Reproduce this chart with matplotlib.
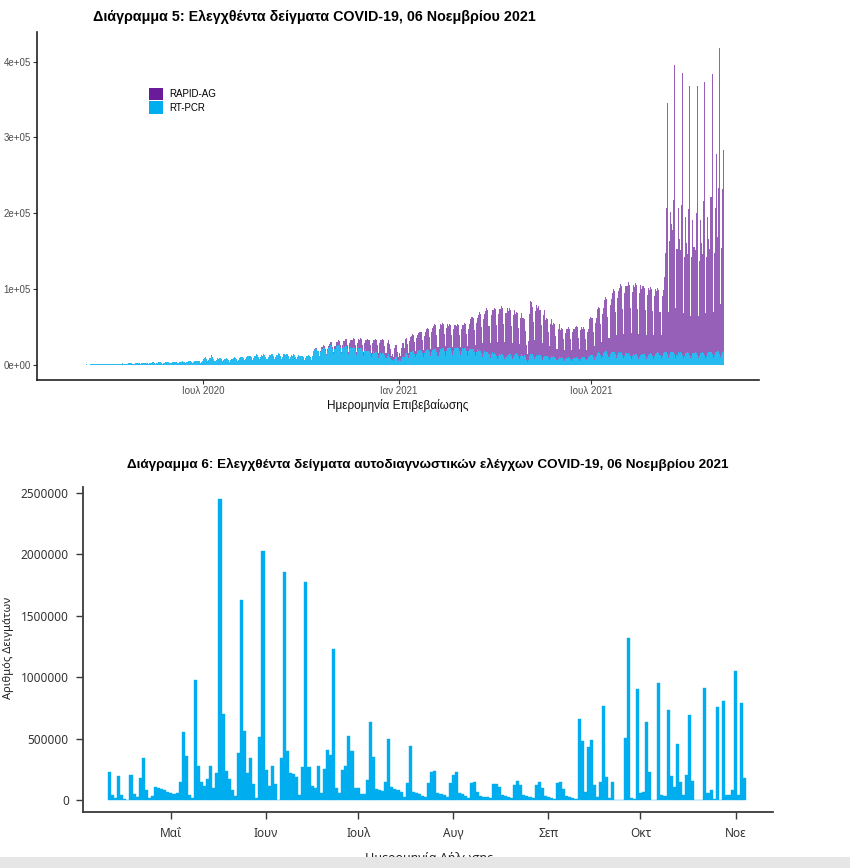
import numpy as np
import matplotlib
matplotlib.use('Agg')
import matplotlib.pyplot as plt
import matplotlib.dates as mdates
from matplotlib.patches import Patch, Rectangle

# ---------------- Διάγραμμα 5 : daily tests in thousands, one row per week (Wed..Tue)
pcr_start = '2020-02-26'
rt_pcr_k = [
    0.1, 0.1, 0.1, 0.1, 0.0, 0.1, 0.2,
    0.2, 0.3, 0.3, 0.3, 0.2, 0.3, 0.4,
    0.5, 0.6, 0.7, 0.6, 0.4, 0.5, 0.7,
    0.9, 1.0, 1.1, 1.0, 0.7, 0.8, 1.1,
    1.2, 1.3, 1.3, 1.2, 0.8, 1.0, 1.3,
    1.5, 1.6, 1.7, 1.5, 1.0, 1.2, 1.6,
    1.7, 1.8, 1.7, 1.5, 1.0, 1.2, 1.7,
    1.9, 2.0, 1.8, 1.6, 1.1, 1.3, 1.9,
    2.1, 2.3, 2.2, 1.9, 1.3, 1.6, 2.2,
    2.6, 2.8, 2.7, 2.3, 1.5, 2.0, 2.7,
    2.9, 3.1, 3.0, 2.6, 1.7, 2.2, 3.0,
    3.1, 3.4, 3.3, 2.8, 1.8, 2.4, 3.2,
    3.3, 3.5, 3.4, 2.9, 1.9, 2.5, 3.4,
    3.4, 3.7, 3.6, 3.0, 2.0, 2.6, 3.5,
    3.9, 4.2, 4.1, 3.5, 2.3, 3.0, 4.0,
    4.4, 4.7, 4.5, 3.8, 2.5, 3.3, 4.5,
    4.7, 5.0, 4.9, 4.1, 2.7, 3.5, 4.8,
    5.2, 5.6, 5.4, 4.6, 3.0, 3.9, 5.3,
    7.5, 9.0, 10.5, 8.0, 5.0, 6.5, 9.5,
    9.5, 13.0, 11.0, 8.5, 5.5, 7.0, 9.0,
    8.5, 9.5, 9.0, 7.5, 5.0, 6.5, 8.5,
    8.0, 9.0, 8.5, 7.0, 4.5, 6.0, 8.0,
    9.0, 10.0, 9.5, 8.0, 5.0, 7.0, 9.5,
    10.0, 11.0, 10.5, 9.0, 6.0, 8.0, 10.5,
    11.5, 12.5, 12.0, 10.0, 6.5, 9.0, 12.0,
    12.5, 14.0, 13.0, 11.0, 7.5, 10.0, 13.0,
    12.5, 15.0, 13.5, 11.0, 7.5, 10.0, 13.0,
    13.0, 14.5, 14.0, 11.5, 8.0, 10.5, 13.5,
    13.5, 16.0, 14.5, 12.0, 8.0, 11.0, 14.0,
    13.0, 14.5, 14.0, 11.5, 7.5, 10.5, 13.5,
    12.5, 14.0, 13.5, 11.0, 7.5, 10.0, 13.0,
    11.5, 12.5, 12.0, 10.0, 6.5, 9.0, 11.5,
    12.0, 13.0, 12.5, 10.5, 7.0, 12.0, 19.0,
    20.0, 22.0, 21.5, 18.0, 12.0, 17.0, 21.0,
    21.0, 23.0, 22.5, 19.0, 13.0, 18.0, 22.0,
    24.0, 26.0, 25.5, 21.0, 15.0, 21.0, 25.0,
    25.5, 27.0, 26.5, 22.0, 15.5, 22.0, 26.0,
    24.0, 25.5, 25.0, 21.0, 14.5, 20.5, 24.0,
    22.0, 23.5, 23.0, 19.0, 13.0, 19.0, 22.5,
    21.0, 22.5, 22.0, 18.0, 12.5, 18.0, 21.0,
    18.0, 19.0, 18.5, 15.5, 10.5, 15.0, 18.0,
    16.0, 17.0, 16.5, 14.0, 9.5, 13.5, 16.0,
    15.0, 16.0, 15.5, 13.0, 9.0, 12.5, 15.0,
    11.0, 9.0, 6.0, 7.0, 5.0, 8.0, 10.0,
    10.0, 7.0, 5.0, 7.0, 5.5, 8.0, 11.0,
    10.0, 15.0, 16.0, 13.5, 9.0, 13.0, 16.5,
    17.5, 18.5, 18.0, 15.0, 10.5, 15.0, 18.0,
    18.5, 19.5, 19.0, 16.0, 11.0, 16.0, 19.0,
    19.5, 20.5, 20.0, 17.0, 11.5, 17.0, 20.0,
    20.5, 21.5, 21.0, 17.5, 12.0, 17.5, 21.0,
    21.5, 22.5, 22.0, 18.5, 12.5, 18.5, 22.0,
    22.5, 23.5, 23.0, 19.0, 13.0, 19.0, 22.5,
    22.5, 23.5, 23.0, 19.0, 13.0, 19.0, 22.5,
    21.5, 22.5, 22.0, 18.5, 12.5, 18.0, 21.5,
    20.5, 21.5, 21.0, 17.5, 12.0, 17.0, 20.5,
    18.5, 19.5, 19.0, 16.0, 11.0, 15.5, 18.5,
    16.5, 17.5, 17.0, 14.0, 9.5, 14.0, 16.5,
    14.5, 15.5, 15.0, 12.5, 8.5, 12.0, 14.5,
    13.5, 14.5, 14.0, 11.5, 8.0, 11.0, 13.5,
    13.5, 14.5, 14.0, 11.5, 8.0, 11.0, 13.5,
    14.5, 15.5, 15.0, 12.5, 8.5, 12.0, 14.5,
    12.0, 13.0, 10.0, 7.0, 4.5, 6.0, 12.0,
    14.0, 14.5, 14.0, 11.5, 8.0, 11.0, 13.5,
    12.5, 13.5, 13.0, 10.5, 7.0, 10.0, 12.5,
    11.5, 12.5, 12.0, 10.0, 6.5, 9.0, 11.5,
    10.5, 11.5, 11.0, 9.0, 6.0, 8.0, 10.5,
    9.5, 10.0, 9.5, 8.0, 5.5, 7.5, 9.5,
    9.5, 10.0, 9.5, 8.0, 5.5, 7.5, 9.5,
    9.5, 10.0, 9.5, 8.0, 5.5, 7.5, 9.5,
    10.5, 11.0, 10.5, 8.5, 6.0, 8.5, 10.5,
    12.5, 13.5, 13.0, 10.5, 7.0, 10.0, 12.5,
    15.5, 16.5, 16.0, 13.0, 9.0, 12.5, 15.5,
    17.5, 18.5, 18.0, 15.0, 10.0, 14.0, 17.5,
    16.5, 17.5, 17.0, 14.0, 9.5, 13.5, 16.5,
    15.5, 16.5, 16.0, 13.0, 9.0, 12.5, 15.5,
    14.5, 15.5, 15.0, 12.5, 8.5, 11.5, 14.5,
    13.5, 14.5, 14.0, 11.5, 8.0, 10.5, 13.5,
    13.5, 14.5, 14.0, 11.5, 8.0, 10.5, 13.5,
    14.5, 15.5, 15.0, 12.5, 8.5, 11.5, 14.5,
    15.5, 16.5, 16.0, 13.0, 9.0, 12.5, 15.5,
    16.5, 17.5, 17.0, 14.0, 9.5, 13.0, 16.5,
    16.5, 17.5, 17.0, 14.0, 9.5, 13.0, 16.5,
    15.5, 16.5, 16.0, 13.0, 9.0, 12.5, 15.5,
    15.5, 16.5, 16.0, 13.0, 9.0, 12.5, 15.5,
    15.5, 16.5, 16.0, 13.0, 9.0, 12.5, 15.5,
    15.5, 16.5, 16.0, 13.0, 9.0, 12.5, 15.5,
    16.5, 17.5, 17.0, 14.0, 9.5, 13.0, 16.5,
    17.5, 18.5, 18.0, 15.0, 10.0, 14.0, 17.5,
    18.5,
]

rapid_start = '2020-10-14'
rapid_ag_k = [
    0.5, 1.0, 1.5, 1.0, 0.5, 2.0, 2.5,
    2.5, 3.0, 3.0, 2.0, 1.0, 3.0, 3.5,
    4.0, 4.5, 4.5, 3.0, 1.5, 4.0, 5.0,
    5.0, 5.5, 5.5, 4.0, 2.0, 5.0, 6.0,
    8.0, 9.0, 9.0, 6.0, 3.0, 8.5, 9.5,
    10.5, 11.5, 11.0, 7.5, 4.0, 10.0, 11.5,
    11.5, 12.5, 12.0, 8.5, 4.5, 11.0, 12.5,
    14.5, 15.5, 15.0, 10.5, 5.5, 14.0, 15.5,
    16.5, 17.5, 17.0, 12.0, 6.0, 16.0, 17.5,
    17.5, 18.5, 18.0, 12.5, 6.5, 17.0, 18.5,
    17.0, 12.0, 6.0, 8.0, 6.0, 14.0, 17.0,
    16.0, 10.0, 5.0, 9.0, 7.0, 15.0, 18.0,
    12.0, 19.0, 20.0, 14.0, 7.0, 18.0, 20.0,
    21.0, 22.0, 21.5, 15.0, 8.0, 20.0, 22.0,
    23.5, 24.5, 24.0, 16.5, 9.0, 22.0, 24.5,
    27.5, 28.5, 28.0, 19.5, 10.0, 26.0, 28.5,
    31.5, 33.0, 32.0, 22.0, 12.0, 30.0, 32.5,
    31.5, 33.0, 32.0, 22.0, 12.0, 30.0, 32.5,
    29.5, 31.0, 30.0, 21.0, 11.0, 28.0, 30.5,
    29.5, 31.0, 30.0, 21.0, 11.0, 28.0, 30.5,
    31.5, 33.0, 32.0, 22.0, 12.0, 30.0, 32.5,
    40.0, 42.0, 41.0, 28.0, 15.0, 38.0, 41.5,
    47.5, 50.0, 48.5, 33.5, 18.0, 45.0, 49.0,
    54.5, 57.0, 55.5, 38.0, 20.0, 52.0, 56.0,
    57.5, 60.0, 58.5, 40.0, 21.5, 55.0, 59.0,
    60.5, 63.0, 61.5, 42.0, 22.5, 58.0, 62.0,
    57.5, 60.0, 58.5, 40.0, 21.5, 55.0, 59.0,
    52.5, 55.0, 53.5, 36.5, 19.5, 50.0, 54.0,
    50.0, 48.0, 35.0, 20.0, 10.0, 25.0, 55.0,
    70.0, 68.0, 62.0, 45.0, 25.0, 60.0, 66.0,
    62.0, 64.0, 60.0, 42.0, 22.0, 56.0, 60.0,
    47.5, 50.0, 48.5, 33.5, 18.0, 45.0, 49.0,
    42.0, 44.0, 43.0, 29.5, 15.5, 40.0, 43.0,
    37.0, 38.5, 37.5, 26.0, 14.0, 35.0, 37.5,
    38.0, 39.5, 38.5, 26.5, 14.0, 36.0, 38.5,
    40.0, 41.5, 40.5, 28.0, 15.0, 38.0, 40.5,
    37.0, 38.5, 37.5, 26.0, 14.0, 35.0, 37.5,
    47.5, 50.0, 48.5, 33.5, 18.0, 45.0, 49.0,
    58.0, 60.5, 59.0, 40.5, 21.5, 55.0, 59.5,
    68.5, 71.5, 69.5, 48.0, 25.5, 65.0, 70.0,
    79.0, 82.5, 80.5, 55.5, 29.5, 75.0, 81.0,
    86.5, 90.0, 88.0, 60.5, 32.0, 82.0, 88.5,
    89.5, 93.5, 91.0, 62.5, 33.5, 85.0, 91.5,
    89.5, 93.5, 91.0, 62.5, 33.5, 85.0, 91.5,
    86.5, 90.0, 88.0, 60.5, 32.0, 82.0, 88.5,
    84.0, 87.5, 85.5, 59.0, 31.0, 80.0, 86.0,
    82.0, 85.5, 83.5, 57.5, 30.5, 78.0, 84.0,
    100.0, 130.0, 190.0, 332.0, 60.0, 150.0, 185.0,
    170.0, 160.0, 200.0, 381.0, 65.0, 140.0, 190.0,
    150.0, 135.0, 195.0, 372.0, 60.0, 130.0, 180.0,
    145.0, 130.0, 190.0, 355.0, 55.0, 130.0, 175.0,
    140.0, 135.0, 185.0, 355.0, 55.0, 125.0, 175.0,
    145.0, 130.0, 200.0, 360.0, 60.0, 130.0, 180.0,
    150.0, 135.0, 205.0, 369.0, 60.0, 135.0, 190.0,
    260.0, 150.0, 215.0, 403.0, 70.0, 140.0, 215.0,
    265.0,
]

top_yticks = [0, 100000, 200000, 300000, 400000]
top_ytick_labels = ['0e+00', '1e+05', '2e+05', '3e+05', '4e+05']
top_xticks = ['2020-07-01', '2021-01-01', '2021-07-01']
top_xtick_labels = ['Ιουλ 2020', 'Ιαν 2021', 'Ιουλ 2021']

# ---------------- Διάγραμμα 6 : self tests in thousands, Apr 11 -> Nov 4 2021
self_start = '2021-04-11'
self_tests_k = [
    230, 40, 15, 195, 40, 8, 4,
    200, 50, 25, 180, 343, 80, 20,
    35, 108, 100, 90, 80, 65, 55,
    48, 55, 149, 555, 357, 40, 15,
    974, 277, 150, 110, 170, 280, 100,
    220, 2450, 700, 232, 170, 80, 30,
    380, 1630, 560, 220, 340, 130, 20,
    510, 2023, 240, 110, 275, 130, 0,
    340, 1851, 400, 220, 210, 190, 40,
    270, 1777, 265, 115, 100, 280, 60,
    250, 410, 370, 1232, 97, 60, 240,
    280, 520, 400, 100, 95, 50, 50,
    160, 635, 350, 90, 85, 70, 150,
    500, 108, 90, 81, 68, 27, 141,
    439, 68, 55, 49, 33, 27, 141,
    230, 236, 60, 50, 41, 27, 136,
    203, 230, 54, 45, 33, 14, 136,
    149, 68, 33, 25, 22, 14, 127,
    127, 108, 41, 35, 27, 14, 122,
    157, 122, 41, 35, 27, 14, 122,
    149, 95, 33, 22, 14, 10, 141,
    150, 90, 33, 25, 15, 10, 656,
    483, 68, 434, 488, 122, 27, 144,
    765, 190, 20, 150, 0, 0, 0,
    502, 1315, 13, 5, 903, 54, 62,
    637, 230, 0, 2, 949, 40, 30,
    732, 195, 108, 456, 150, 40, 203,
    691, 155, 0, 0, 0, 908, 54,
    81, 5, 754, 0, 805, 40, 40,
    81, 1049, 40, 792, 176,
]

bottom_yticks = [0, 500000, 1000000, 1500000, 2000000, 2500000]
bottom_ytick_labels = ['0', '500000', '1000000', '1500000', '2000000', '2500000']
bottom_xticks = ['2021-05-01', '2021-06-01', '2021-07-01', '2021-08-01',
                 '2021-09-01', '2021-10-01', '2021-11-01']
bottom_xtick_labels = ['Μαΐ', 'Ιουν', 'Ιουλ', 'Αυγ', 'Σεπ', 'Οκτ', 'Νοε']

PURPLE = '#6A1B9A'
BLUE = '#00AEEF'
TITLE_FONT = ['Liberation Sans Narrow', 'Liberation Sans', 'DejaVu Sans']
R_FONT = ['Liberation Sans', 'DejaVu Sans']
WIN_FONT = ['Noto Sans', 'DejaVu Sans']


def day_nums(start, n):
    return mdates.date2num(np.datetime64(start) + np.arange(n))


W, H = 850, 868
fig = plt.figure(figsize=(W / 100, H / 100), dpi=100)
fig.patch.set_facecolor('white')


def px_axes(left, top, right, bottom):
    return fig.add_axes([left / W, 1 - bottom / H, (right - left) / W, (bottom - top) / H])


# ================= top chart =================
ax1 = px_axes(37, 32, 759, 380)
pcr_x = day_nums(pcr_start, len(rt_pcr_k))
pcr = np.array(rt_pcr_k) * 1000
rap_x = day_nums(rapid_start, len(rapid_ag_k))
rap = np.array(rapid_ag_k) * 1000
offset = int((np.datetime64(rapid_start) - np.datetime64(pcr_start)).astype(int))
rap_bottom = pcr[offset:offset + len(rap)]

ax1.bar(pcr_x, pcr, width=1.0, color=BLUE, alpha=0.85, linewidth=0)
ax1.bar(rap_x, rap, width=1.0, bottom=rap_bottom, color=PURPLE, alpha=0.7, linewidth=0)

ax1.set_xlim(mdates.date2num(np.datetime64('2020-01-26T10')),
             mdates.date2num(np.datetime64('2021-12-06T05')))
ax1.set_ylim(-19800, 439000)
ax1.set_yticks(top_yticks)
ax1.set_yticklabels(top_ytick_labels)
ax1.set_xticks(mdates.date2num(np.array(top_xticks, dtype='datetime64[D]')))
ax1.set_xticklabels(top_xtick_labels)
for s in ['top', 'right']:
    ax1.spines[s].set_visible(False)
for s in ['left', 'bottom']:
    ax1.spines[s].set_color('#222222')
    ax1.spines[s].set_linewidth(1.2)
ax1.tick_params(length=3, width=0.8, color='#333333', labelsize=7,
                labelcolor='#4d4d4d', pad=1.5)
for lab in ax1.get_xticklabels() + ax1.get_yticklabels():
    lab.set_family(R_FONT)

leg = ax1.legend([Patch(fc=PURPLE), Patch(fc=BLUE)], ['RAPID-AG', 'RT-PCR'],
                 loc='upper left', bbox_to_anchor=((149 - 37) / 722, 1 - (88 - 32) / 348),
                 frameon=False, borderaxespad=0, borderpad=0, handlelength=1.4,
                 handleheight=1.55, handletextpad=0.7, labelspacing=0.12,
                 prop={'family': R_FONT, 'size': 7})

fig.text(93 / W, 1 - 17 / H, 'Διάγραμμα 5: Ελεγχθέντα δείγματα COVID-19, 06 Νοεμβρίου 2021',
         ha='left', va='center', fontsize=10.3, fontweight='bold', family=TITLE_FONT)
fig.text(398 / W, 1 - 405 / H, 'Ημερομηνία Επιβεβαίωσης', ha='center', va='center',
         fontsize=8.5, family=R_FONT, color='#111111')
fig.text(1.5 / W, 1 - 213 / H, 'Αριθμός Δειγμάτων', ha='right', va='center',
         rotation=90, fontsize=9, family=R_FONT, color='#111111')

# ================= bottom chart =================
ax2 = px_axes(82.7, 486.7, 772.8, 811.7)
st_x = day_nums(self_start, len(self_tests_k))
ax2.bar(st_x, np.array(self_tests_k) * 1000, width=1.0, color=BLUE,
        edgecolor=BLUE, linewidth=0.3)

ax2.set_xlim(mdates.date2num(np.datetime64('2021-04-02T06')),
             mdates.date2num(np.datetime64('2021-11-13T03')))
ax2.set_ylim(-95200, 2548800)
ax2.set_yticks(bottom_yticks)
ax2.set_yticklabels(bottom_ytick_labels)
ax2.set_xticks(mdates.date2num(np.array(bottom_xticks, dtype='datetime64[D]')))
ax2.set_xticklabels(bottom_xtick_labels)
for s in ['top', 'right']:
    ax2.spines[s].set_visible(False)
for s in ['left', 'bottom']:
    ax2.spines[s].set_color('#3a3a3a')
    ax2.spines[s].set_linewidth(1.3)
ax2.tick_params(length=5, width=1.0, color='#3a3a3a', labelsize=8.5,
                labelcolor='#333333')
ax2.tick_params(axis='y', pad=5)
ax2.tick_params(axis='x', pad=6)
for lab in ax2.get_xticklabels() + ax2.get_yticklabels():
    lab.set_family(WIN_FONT)

fig.text(428 / W, 1 - 464 / H,
         'Διάγραμμα 6: Ελεγχθέντα δείγματα αυτοδιαγνωστικών ελέγχων COVID-19, 06 Νοεμβρίου 2021',
         ha='center', va='center', fontsize=9.7, fontweight='bold', family=TITLE_FONT)
fig.text(14 / W, 1 - 648 / H, 'Αριθμός Δειγμάτων', ha='right', va='center',
         rotation=90, fontsize=8, family=WIN_FONT, color='#222222')
fig.text(429 / W, 1 - 852 / H, 'Ημερομηνία Δήλωσης', ha='center', va='top',
         fontsize=9, family=WIN_FONT, color='#222222')

# grey strip at the very bottom of the screenshot
fig.add_artist(Rectangle((0, 0), 1, 11 / H, transform=fig.transFigure,
                         facecolor='#e6e6e6', edgecolor='none', zorder=10))

fig.savefig('out.png', dpi=100)
